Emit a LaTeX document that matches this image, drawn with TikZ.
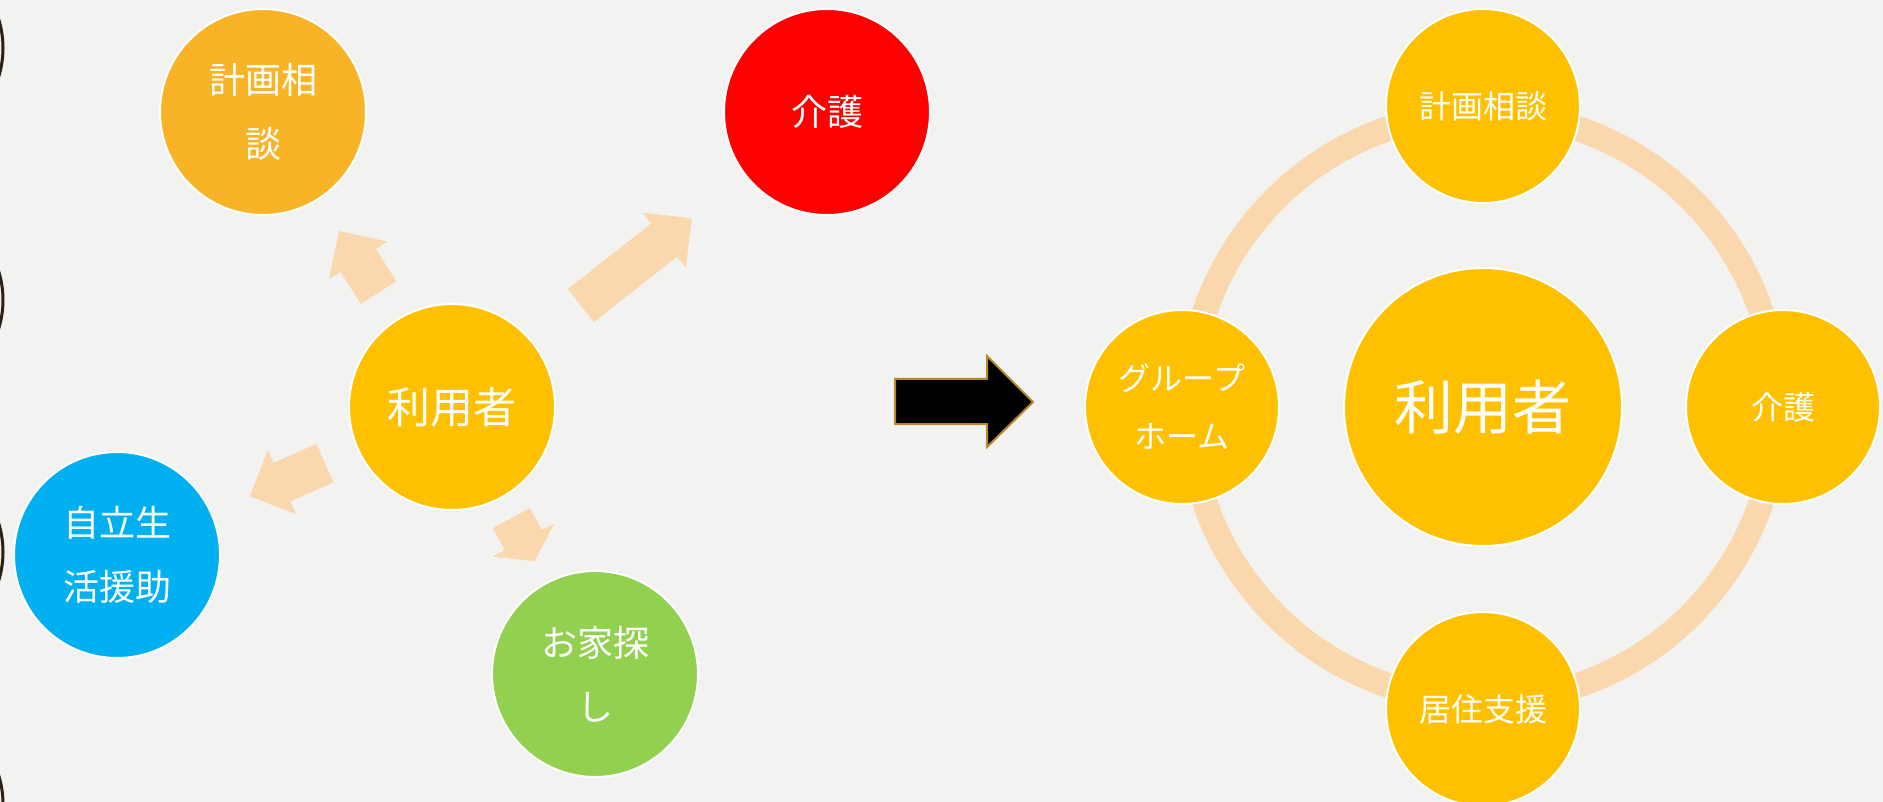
\documentclass[tikz,border=0pt]{standalone}
\usepackage{fontspec}
\newfontfamily\jp{Noto Sans CJK JP}
\usetikzlibrary{calc}
\definecolor{bg}{HTML}{F2F2F0}
\definecolor{goldA}{HTML}{F8B426}
\definecolor{amber}{HTML}{FFC000}
\definecolor{redC}{HTML}{FF0000}
\definecolor{blueC}{HTML}{00B0F0}
\definecolor{greenC}{HTML}{92D050}
\definecolor{peach}{HTML}{FBD7AE}
\definecolor{arcdark}{HTML}{2B2012}
\definecolor{goldedge}{HTML}{B8862B}
\newcommand\blkarrow[5]{%
  \coordinate (S) at ($(#1.center)!#3!(#2.center)$);
  \coordinate (T) at ($(#1.center)!#4!(#2.center)$);
  \coordinate (H) at ($(T)!#5!(S)$);
  \fill[peach] ($(S)!21pt!90:(T)$) -- ($(H)!21pt!90:(T)$) -- ($(H)!35pt!90:(T)$)
    -- (T) -- ($(H)!35pt!-90:(T)$) -- ($(H)!21pt!-90:(T)$) -- ($(S)!21pt!-90:(T)$) -- cycle;
}
\tikzset{
  bubble/.style={circle, inner sep=0pt, draw=white, line width=2pt, text=white, align=center},
  lsmall/.style={bubble, minimum size=206pt, font=\jp\fontsize{36}{64}\selectfont},
  rsmall/.style={bubble, minimum size=194pt, fill=amber, font=\jp\fontsize{32}{58}\selectfont},
}
\begin{document}
\begin{tikzpicture}[x=1pt, y=-1pt]
\useasboundingbox (0,0) rectangle (1883,802);
\fill[bg] (0,0) rectangle (1883,802);
% edge arcs
\foreach \yy in {48,300,552,804}
  \draw[arcdark, line width=3pt] (-94.5,\yy) circle[radius=97.5pt];
% left diagram
\node[bubble, minimum size=206pt, fill=amber, font=\jp\fontsize{43}{50}\selectfont] (u) at (452,407) {利用者};
\node[lsmall, fill=goldA] (k) at (263,112) {計画相\\談};
\node[lsmall, fill=redC] (c) at (827,112) {介護};
\node[lsmall, fill=blueC] (j) at (117,555) {自立生\\活援助};
\node[lsmall, fill=greenC] (o) at (595,674) {お家探\\し};
\blkarrow{u}{k}{136pt}{209pt}{35pt}
\blkarrow{u}{c}{164pt}{305pt}{35pt}
\blkarrow{u}{o}{126pt}{175pt}{24pt}
\blkarrow{u}{j}{139pt}{221pt}{35pt}
% transition arrow
\draw[goldedge, fill=black, line width=2pt, line join=miter]
  (895,379) -- (987,379) -- (987,356) -- (1033,402) -- (987,447) -- (987,424) -- (895,424) -- cycle;
% right diagram
\node[bubble, minimum size=278pt, fill=amber, font=\jp\fontsize{59}{66}\selectfont] (ub) at (1483,407) {利用者};
\draw[peach, line width=25pt] (ub.center) circle[radius=294pt];
\node[rsmall] (rk) at ($(ub.center)+(0,-301)$) {計画相談};
\node[rsmall] (rc) at ($(ub.center)+(300,0)$) {介護};
\node[rsmall] (rj) at ($(ub.center)+(0,302)$) {居住支援};
\node[rsmall] (rg) at ($(ub.center)+(-301,0)$) {グループ\\ホーム};
\end{tikzpicture}
\end{document}
